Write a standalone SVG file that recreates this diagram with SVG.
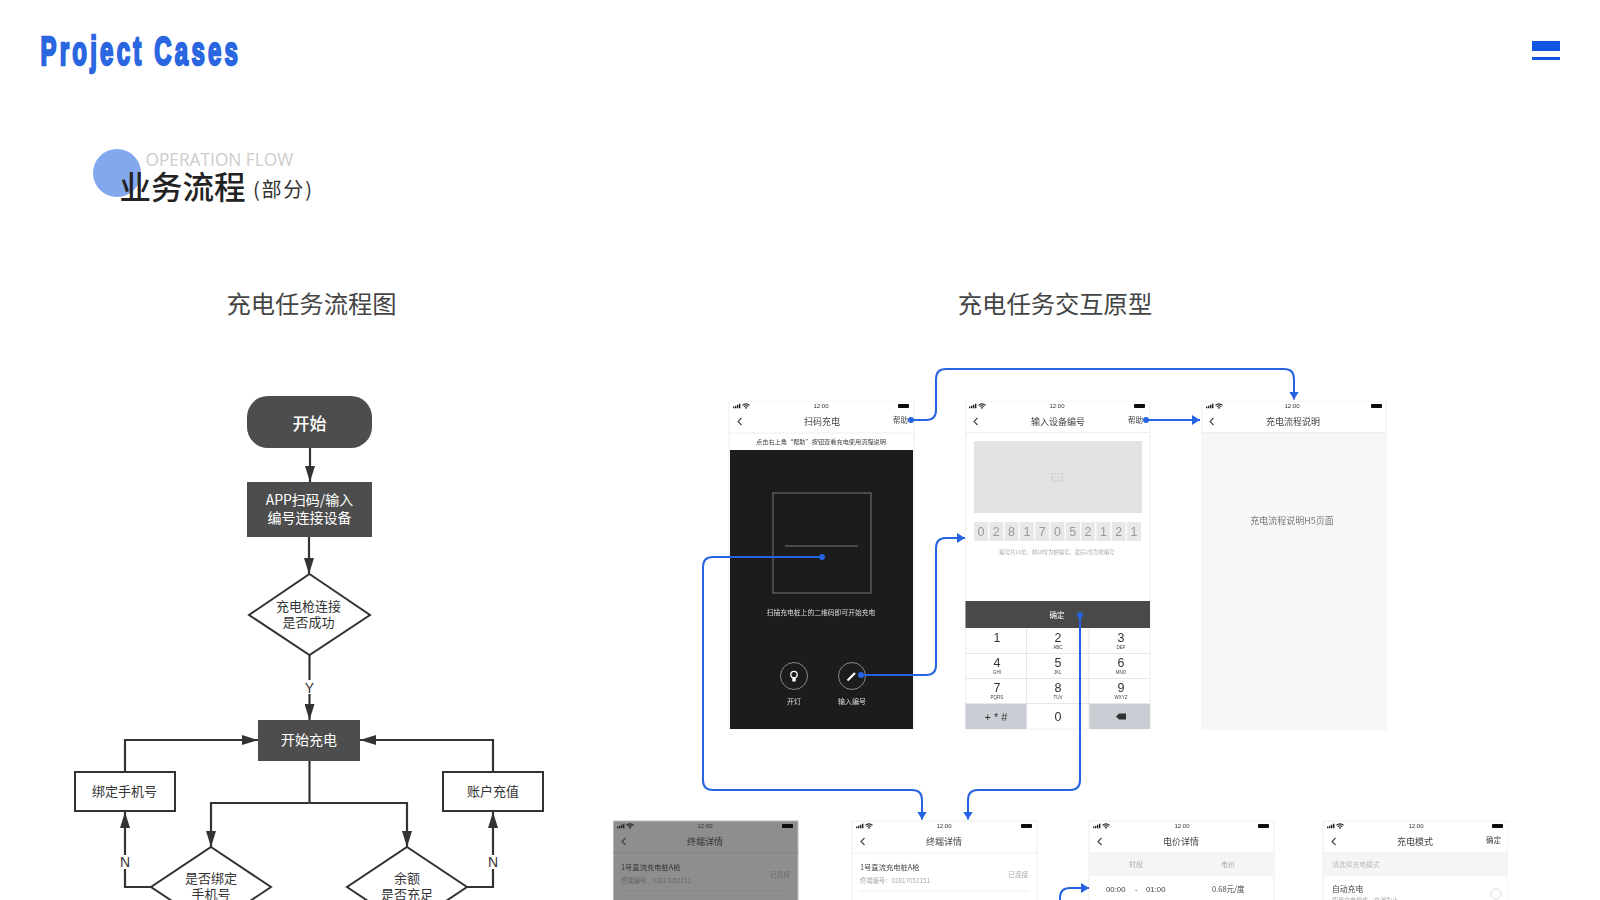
<svg xmlns="http://www.w3.org/2000/svg" xmlns:xlink="http://www.w3.org/1999/xlink" width="1600" height="900" viewBox="0 0 1600 900">
<style>
text{font-family:"Noto Sans CJK SC","Noto Sans",sans-serif}
.m{text-anchor:middle}
.n{fill:#4d4d4d}
.w{fill:#fff}
.nt{font-size:14px;fill:#333;text-anchor:middle}
.nw{font-size:14px;fill:#fff;text-anchor:middle}
.o{fill:#fff;stroke:#333;stroke-width:2}
.f{fill:none;stroke:#333;stroke-width:2.2}
.lbl{font-family:"Liberation Sans",sans-serif;font-size:14px;fill:#333;text-anchor:middle}
.phone{fill:#fff;stroke:#eee;stroke-width:1}
.hl{stroke:#eee;stroke-width:1}
.st{font-family:"Liberation Sans",sans-serif;font-size:6px;fill:#333;text-anchor:middle}
.pt{font-size:9px;fill:#444;text-anchor:middle}
.sm{font-size:7px;fill:#444}
.dg{font-family:"Liberation Sans",sans-serif;font-size:12.500px;fill:#333;text-anchor:middle}
.lt{font-family:"Liberation Sans",sans-serif;font-size:4.500px;fill:#444;text-anchor:middle}
.db{fill:#e8e8e8}
.dt{font-family:"Liberation Sans",sans-serif;font-size:12.500px;fill:#999;text-anchor:middle}
.b{fill:none;stroke:#2563e0;stroke-width:2}
.d{fill:#2563e0}
</style>
<defs>
<marker id="ah" viewBox="0 0 16 10" refX="16" refY="5" markerWidth="16" markerHeight="10" markerUnits="userSpaceOnUse" orient="auto"><path d="M0 0L16 5L0 10z" fill="#333"/></marker>
<marker id="bh" viewBox="0 0 8 10" refX="8" refY="5" markerWidth="8" markerHeight="10" markerUnits="userSpaceOnUse" orient="auto"><path d="M0 0L8 5L0 10z" fill="#2563e0"/></marker>
<g id="status">
<path d="M0 3h1.400v1.800H0zM2 2.200h1.400v2.600H2zM4 1.200h1.400v3.600H4zM6 .2h1.400v4.600H6z" fill="#222"/>
<path d="M9.500 1.800Q13-1 16.500 1.800M10.800 3.100Q13 1.300 15.200 3.100" fill="none" stroke="#222" stroke-width="1.100"/>
<circle cx="13" cy="4.300" r=".9" fill="#222"/>
<rect x="165" y=".6" width="11" height="4" rx=".8" fill="#111"/>
</g>
<g id="chev"><path d="M3.500 0L0 3.500L3.500 7" fill="none" stroke="#444" stroke-width="1.100"/></g>
<filter id="soft" x="0" y="0" width="1" height="1"><feGaussianBlur stdDeviation=".3"/></filter>
</defs>
<rect width="1600" height="900" fill="#fff"/>

<g id="header">
<text transform="translate(40.500 64.500) scale(.6 1)" x="0" y="0" font-size="40" font-weight="700" fill="#2a66e0" stroke="#2a66e0" stroke-width="2.400" textLength="329" lengthAdjust="spacing" style="font-family:'Liberation Sans',sans-serif">Project Cases</text>
<rect x="1532" y="41" width="28" height="10" fill="#0f57e0"/>
<rect x="1532" y="57" width="28" height="3" fill="#0f57e0"/>
</g>
<g id="section-title">
<circle cx="117" cy="173" r="24" fill="#84a8ee"/>
<text x="145.500" y="165.500" font-size="17.300" fill="#ccc" style="font-family:'Open Sans',sans-serif">OPERATION FLOW</text>
<text x="119.500" y="198.500" font-size="31.500" font-weight="500" fill="#222">业务流程</text>
<text x="253" y="196.500" font-size="20" letter-spacing="1.800" fill="#333">(部分)</text>
</g>
<text x="311.500" y="313" font-size="24.300" fill="#444" class="m">充电任务流程图</text>
<text x="1055" y="313" font-size="24.300" fill="#444" class="m">充电任务交互原型</text>

<g id="flow-connectors">
<path class="f" d="M310 448V482" marker-end="url(#ah)"/>
<path class="f" d="M309 537V574" marker-end="url(#ah)"/>
<path class="f" d="M309.500 655V720" marker-end="url(#ah)"/>
<path class="f" d="M309.500 761V803"/>
<path class="f" d="M309.500 803H211V847" marker-end="url(#ah)"/>
<path class="f" d="M309.500 803H407V847" marker-end="url(#ah)"/>
<path class="f" d="M125 772V740H258" marker-end="url(#ah)"/>
<path class="f" d="M493 772V740H360" marker-end="url(#ah)"/>
<path class="f" d="M151 887H125V812" marker-end="url(#ah)"/>
<path class="f" d="M467 887H493V812" marker-end="url(#ah)"/>
<rect x="302" y="680" width="15" height="14" fill="#fff"/>
<text class="lbl" x="309.500" y="692.500">Y</text>
<rect x="118" y="855" width="14" height="14" fill="#fff"/>
<text class="lbl" x="125" y="867">N</text>
<rect x="486" y="855" width="14" height="14" fill="#fff"/>
<text class="lbl" x="493" y="867">N</text>
</g>
<g id="n-start"><rect class="n" x="247" y="396" width="125" height="52" rx="21"/><text x="309.500" y="430" font-size="17" font-weight="500" class="m w">开始</text></g>
<g id="n-scan"><rect class="n" x="247" y="482" width="125" height="55"/><text class="nw" x="309.500" y="505">APP扫码/输入</text><text class="nw" x="309.500" y="523">编号连接设备</text></g>
<g id="n-connect"><path class="o" d="M309.500 574L370 615L309.500 655L249 615z"/><text class="nt" x="308.500" y="611" style="font-size:13px">充电枪连接</text><text class="nt" x="308.500" y="627" style="font-size:13px">是否成功</text></g>
<g id="n-charge"><rect class="n" x="258" y="720" width="102" height="41"/><text class="nw" x="309" y="745">开始充电</text></g>
<g id="n-bind"><rect class="o" x="75" y="772" width="100" height="39"/><text class="nt" x="124.500" y="796" style="font-size:13px">绑定手机号</text></g>
<g id="n-topup"><rect class="o" x="443" y="772" width="100" height="39"/><text class="nt" x="493" y="796" style="font-size:13px">账户充值</text></g>
<g id="n-isbound"><path class="o" d="M211 847L271 887L211 927L151 887z"/><text class="nt" x="211" y="883" style="font-size:13px">是否绑定</text><text class="nt" x="211" y="899" style="font-size:13px">手机号</text></g>
<g id="n-balance"><path class="o" d="M407 847L467 887L407 927L347 887z"/><text class="nt" x="407" y="883" style="font-size:13px">余额</text><text class="nt" x="407" y="899" style="font-size:13px">是否充足</text></g>

<g id="phones" filter="url(#soft)">
<g id="p-scan">
<rect class="phone" x="729" y="401" width="185" height="328"/>
<use href="#status" x="733" y="403.500"/><text class="st" x="821" y="408">12:00</text>
<use href="#chev" x="738" y="418"/>
<text class="pt" x="822" y="424.500">扫码充电</text>
<text class="sm" x="893" y="423" style="font-size:7.500px">帮助</text>
<line class="hl" x1="729" y1="433" x2="914" y2="433"/>
<text class="sm m" x="821" y="443.500" style="font-size:6.200px">点击右上角“帮助”按钮查看充电使用流程说明</text>
<rect x="730" y="450" width="183" height="279" fill="#1c1c1c"/>
<rect x="773" y="493" width="98" height="100" fill="none" stroke="#777"/>
<line x1="785" y1="546" x2="858" y2="546" stroke="#777"/>
<text class="m" x="821" y="614.500" font-size="6.800" fill="#ddd">扫描充电桩上的二维码即可开始充电</text>
<circle cx="794" cy="676" r="13.500" fill="none" stroke="#888"/>
<circle cx="794" cy="674.500" r="3.200" fill="none" stroke="#fff" stroke-width="1.300"/><rect x="792.300" y="678" width="3.400" height="3.500" fill="#fff"/>
<circle cx="852" cy="676" r="13.500" fill="none" stroke="#888"/>
<path d="M847.500 680.500L855 673" stroke="#fff" stroke-width="2.200" fill="none"/>
<text class="m" x="794" y="704" font-size="7" fill="#ddd">开灯</text>
<text class="m" x="852" y="704" font-size="7" fill="#ddd">输入编号</text>
</g>
<g id="p-code">
<rect class="phone" x="965.500" y="401" width="184.500" height="328"/>
<use href="#status" x="969" y="403.500"/><text class="st" x="1057" y="408">12:00</text>
<use href="#chev" x="974" y="418"/>
<text class="pt" x="1058" y="424.500">输入设备编号</text>
<text class="sm" x="1128" y="423" style="font-size:7.500px">帮助</text>
<line class="hl" x1="965" y1="432.500" x2="1150" y2="432.500"/>
<rect x="974" y="441" width="168" height="72" fill="#e3e3e3"/>
<path d="M1051.500 473.500h11v7.500h-11zM1052 480l3.500-3.500 2.500 2 2-1.500 2.500 2.500" fill="none" stroke="#d0d0d0"/>
<g>
<rect class="db" x="974" y="522" width="14" height="19"/><rect class="db" x="989.300" y="522" width="14" height="19"/><rect class="db" x="1004.600" y="522" width="14" height="19"/><rect class="db" x="1019.900" y="522" width="14" height="19"/><rect class="db" x="1035.200" y="522" width="14" height="19"/><rect class="db" x="1050.500" y="522" width="14" height="19"/><rect class="db" x="1065.800" y="522" width="14" height="19"/><rect class="db" x="1081.100" y="522" width="14" height="19"/><rect class="db" x="1096.400" y="522" width="14" height="19"/><rect class="db" x="1111.700" y="522" width="14" height="19"/><rect class="db" x="1127" y="522" width="14" height="19"/>
<text class="dt" x="981" y="536">0</text><text class="dt" x="996.300" y="536">2</text><text class="dt" x="1011.600" y="536">8</text><text class="dt" x="1026.900" y="536">1</text><text class="dt" x="1042.200" y="536">7</text><text class="dt" x="1057.500" y="536">0</text><text class="dt" x="1072.800" y="536">5</text><text class="dt" x="1088.100" y="536">2</text><text class="dt" x="1103.400" y="536">1</text><text class="dt" x="1118.700" y="536">2</text><text class="dt" x="1134" y="536">1</text>
</g>
<text class="m" x="1057" y="554" font-size="5.300" fill="#aaa">编号共11位，前10位为桩编号，最后1位为枪编号</text>
<rect x="965.500" y="601" width="184.500" height="27" fill="#4a4a4a"/>
<text class="m w" x="1057" y="617.500" font-size="7.500">确定</text>
<path d="M965 653.500H1150M965 678.500H1150M965 703.500H1150M1026.500 628V729M1089 628V729" stroke="#e6e6e6"/>
<rect x="965.500" y="704" width="61" height="25" fill="#c9ced4"/><rect x="1089.500" y="704" width="60.500" height="25" fill="#c9ced4"/>
<text class="dg" x="997" y="642">1</text><text class="dg" x="1058" y="642">2</text><text class="lt" x="1058" y="649">ABC</text><text class="dg" x="1121" y="642">3</text><text class="lt" x="1121" y="649">DEF</text>
<text class="dg" x="997" y="667">4</text><text class="lt" x="997" y="674">GHI</text><text class="dg" x="1058" y="667">5</text><text class="lt" x="1058" y="674">JKL</text><text class="dg" x="1121" y="667">6</text><text class="lt" x="1121" y="674">MNO</text>
<text class="dg" x="997" y="692">7</text><text class="lt" x="997" y="699">PQRS</text><text class="dg" x="1058" y="692">8</text><text class="lt" x="1058" y="699">TUV</text><text class="dg" x="1121" y="692">9</text><text class="lt" x="1121" y="699">WXYZ</text>
<text class="dg" x="996" y="721" style="font-size:11px">+ * #</text><text class="dg" x="1058" y="721">0</text>
<path d="M1116 716.500l3-3h7v6h-7z" fill="#333"/>
</g>
<g id="p-help">
<rect class="phone" x="1202" y="401" width="184" height="328"/>
<use href="#status" x="1206" y="403.500"/><text class="st" x="1292" y="408">12:00</text>
<use href="#chev" x="1210" y="418"/>
<text class="pt" x="1293" y="424.500">充电流程说明</text>
<rect x="1202.500" y="433" width="183" height="295.500" fill="#f7f7f7"/>
<line class="hl" x1="1202" y1="432.500" x2="1386" y2="432.500"/>
<text class="m" x="1292" y="524" font-size="9" fill="#777">充电流程说明H5页面</text>
</g>
<g id="p-detail-dim">
<rect x="613.500" y="821" width="184.500" height="90" fill="#8e8e8e" stroke="#bbb"/>
<use href="#status" x="617" y="823.500"/><text class="st" x="705" y="828">12:00</text>
<use href="#chev" x="622" y="838"/>
<text class="pt" x="705" y="845" style="fill:#333">终端详情</text>
<line x1="613" y1="853" x2="798" y2="853" stroke="#858585"/>
<text x="621" y="870" font-size="7.300" fill="#333">1号直流充电桩A枪</text>
<text x="621" y="883" font-size="6.300" fill="#666">终端编号：02817052151</text>
<text x="770" y="877" font-size="6.800" fill="#6e6e6e">已连接</text>
<line x1="621" y1="891" x2="790" y2="891" stroke="#858585"/>
</g>
<g id="p-detail">
<rect class="phone" x="852" y="821" width="185" height="90"/>
<use href="#status" x="856" y="823.500"/><text class="st" x="944" y="828">12:00</text>
<use href="#chev" x="861" y="838"/>
<text class="pt" x="944" y="845">终端详情</text>
<line class="hl" x1="852" y1="853" x2="1037" y2="853"/>
<text x="860" y="870" font-size="7.300" fill="#444">1号直流充电桩A枪</text>
<text x="860" y="883" font-size="6.300" fill="#aaa">终端编号：02817052151</text>
<text x="1008" y="877" font-size="6.800" fill="#aaa">已连接</text>
<line class="hl" x1="860" y1="891" x2="1029" y2="891"/>
</g>
<g id="p-price">
<rect class="phone" x="1089" y="821" width="185" height="90"/>
<use href="#status" x="1093" y="823.500"/><text class="st" x="1182" y="828">12:00</text>
<use href="#chev" x="1098" y="838"/>
<text class="pt" x="1181" y="845">电价详情</text>
<rect x="1089.500" y="853" width="184" height="23" fill="#f5f5f5"/>
<line class="hl" x1="1089" y1="853" x2="1274" y2="853"/>
<text class="m" x="1136" y="867" font-size="6.800" fill="#aaa">时段</text>
<text class="m" x="1228" y="867" font-size="6.800" fill="#aaa">电价</text>
<text x="1106" y="892" font-size="7.800" fill="#444" style="font-family:'Liberation Sans',sans-serif">00:00</text>
<text x="1135" y="892" font-size="7.800" fill="#444" style="font-family:'Liberation Sans',sans-serif">-</text>
<text x="1146" y="892" font-size="7.800" fill="#444" style="font-family:'Liberation Sans',sans-serif">01:00</text>
<text x="1212" y="892" font-size="7.500" fill="#444">0.68元/度</text>
</g>
<g id="p-mode">
<rect class="phone" x="1323" y="821" width="185" height="90"/>
<use href="#status" x="1327" y="823.500"/><text class="st" x="1416" y="828">12:00</text>
<use href="#chev" x="1332" y="838"/>
<text class="pt" x="1415" y="845">充电模式</text>
<text class="sm" x="1486" y="843" style="font-size:7.500px">确定</text>
<rect x="1323.500" y="853" width="184" height="23" fill="#f5f5f5"/>
<line class="hl" x1="1323" y1="853" x2="1508" y2="853"/>
<text x="1332" y="867" font-size="6.800" fill="#bbb">请选择充电模式</text>
<text x="1332" y="892" font-size="7.800" fill="#444">自动充电</text>
<text x="1332" y="902" font-size="6" fill="#aaa">使用充电模式，充满为止</text>
<circle cx="1496" cy="894" r="5" fill="#fff" stroke="#ddd"/>
</g>
</g>

<g id="proto-connectors">
<path class="b" d="M911 420H926Q936 420 936 410V379Q936 369 946 369H1284Q1294 369 1294 379V399.500" marker-end="url(#bh)"/>
<path class="b" d="M1146 420H1200" marker-end="url(#bh)"/>
<path class="b" d="M861 675H926Q936 675 936 665V548Q936 538 946 538H965" marker-end="url(#bh)"/>
<path class="b" d="M822 557H713Q703 557 703 567V780Q703 790 713 790H912Q922 790 922 800V819.500" marker-end="url(#bh)"/>
<path class="b" d="M1080 615V780Q1080 790 1070 790H978Q968 790 968 800V819.500" marker-end="url(#bh)"/>
<path class="b" d="M1060 900V898Q1060 888 1070 888H1089" marker-end="url(#bh)"/>
<circle class="d" cx="822" cy="557" r="3"/>
<circle class="d" cx="911" cy="420" r="3"/>
<circle class="d" cx="861" cy="675" r="3"/>
<circle class="d" cx="1146" cy="420" r="3"/>
<circle class="d" cx="1080" cy="615" r="3"/>
</g>
</svg>
